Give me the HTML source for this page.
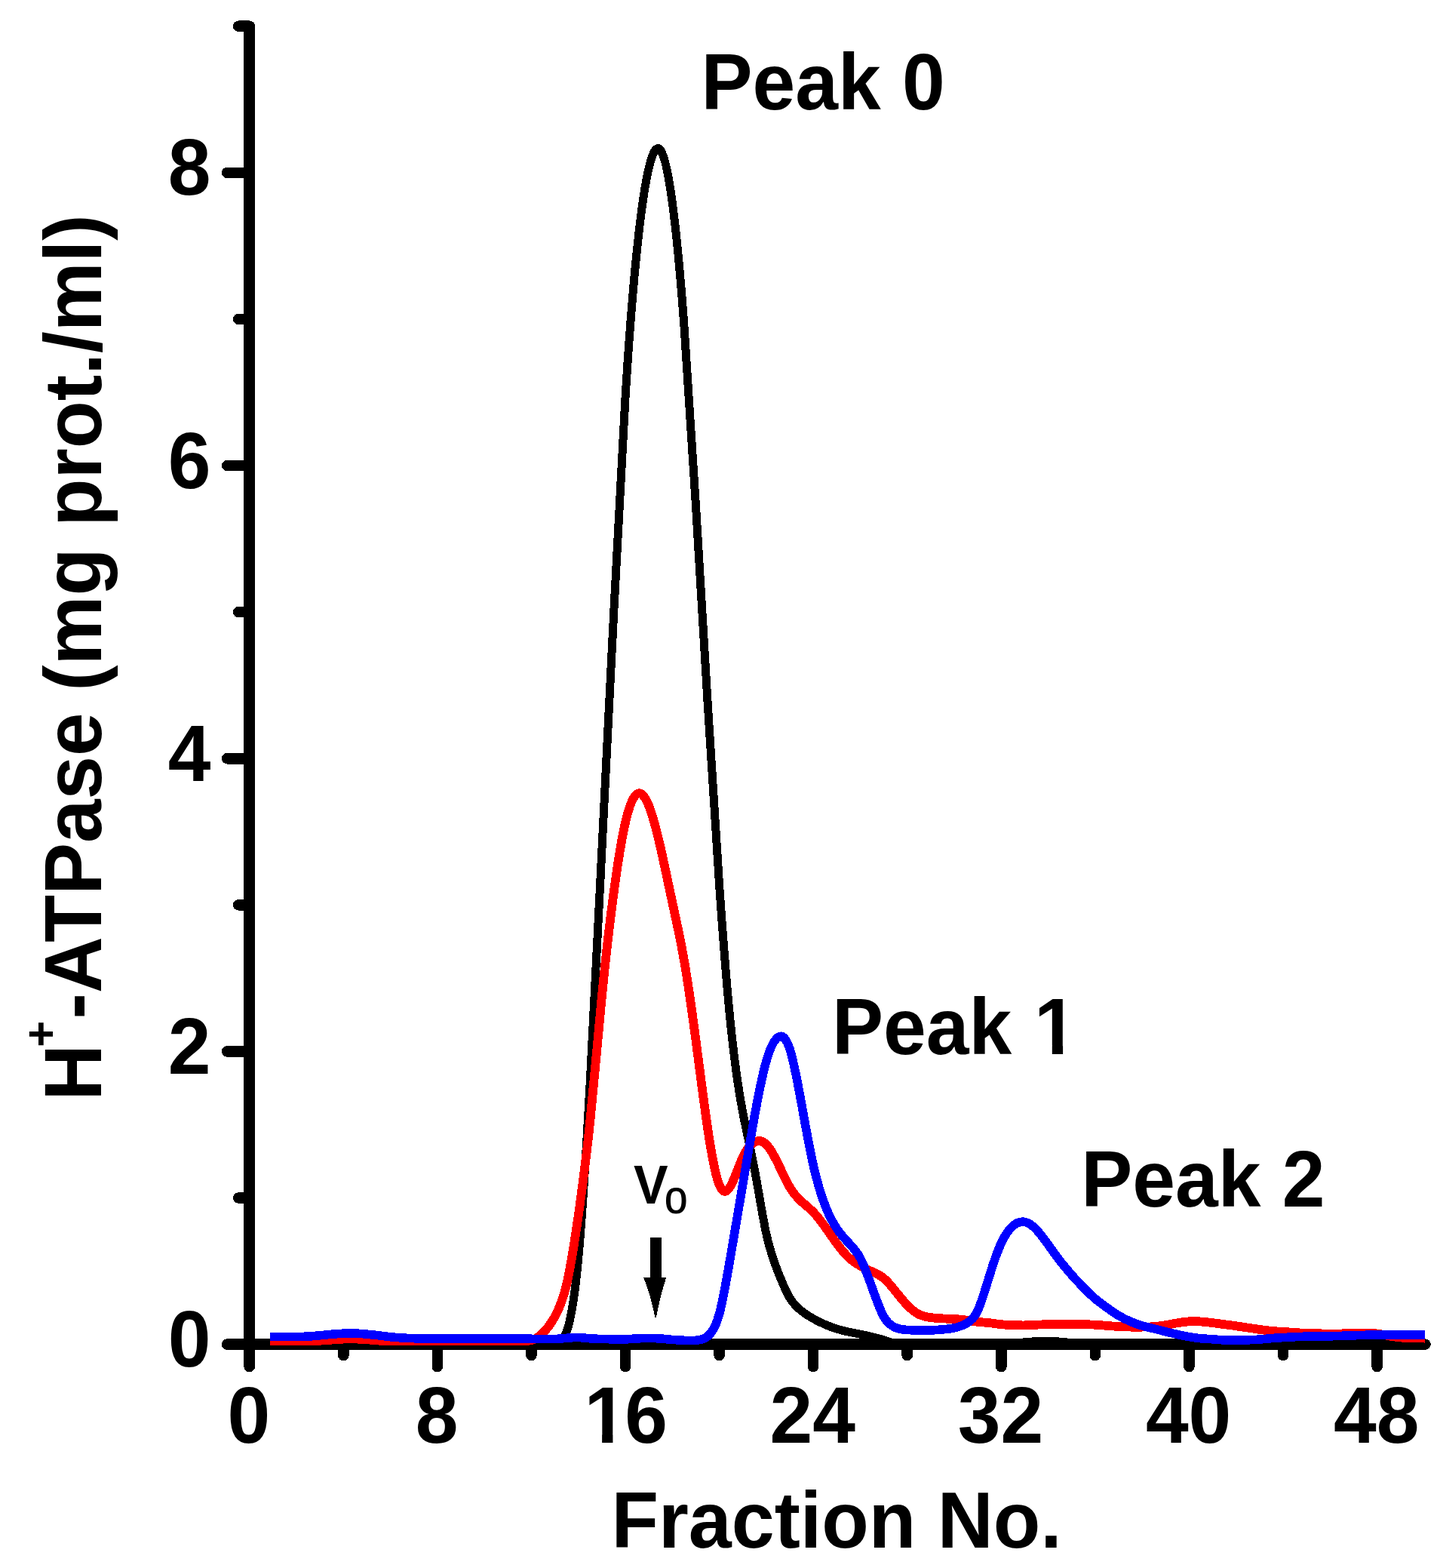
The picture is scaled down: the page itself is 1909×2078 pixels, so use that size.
<!DOCTYPE html>
<html lang="en"><head><meta charset="utf-8"><title>H+-ATPase elution profile</title>
<style>
html,body{margin:0;padding:0;background:#fff;}
body{width:1909px;height:2078px;overflow:hidden;}
svg{display:block;}
text{font-family:"Liberation Sans",sans-serif;fill:#000;}
.b{font-weight:bold;}
.ax{stroke:#000;stroke-width:14.6;fill:none;stroke-linecap:round;}
.cv{fill:none;stroke-linejoin:round;stroke-linecap:butt;}
</style></head><body>
<svg width="1909" height="2078" viewBox="0 0 1909 2078" shape-rendering="crispEdges">
<rect width="1909" height="2078" fill="#fff"/>
<defs>
<clipPath id="c16" clipPathUnits="userSpaceOnUse"><rect x="-200" y="-200" width="400" height="188.89"/><rect x="-30.07" y="-20" width="14.30" height="40"/><rect x="1.2" y="-200" width="200" height="300"/></clipPath>
<clipPath id="cp1" clipPathUnits="userSpaceOnUse"><rect x="-50" y="-200" width="500" height="188.89"/><rect x="291.71" y="-20" width="14.30" height="40"/><rect x="-50" y="-200" width="314.55" height="300"/></clipPath>
</defs>
<g class="ax">
<path d="M330.7 34.7 V1811.1"/>
<path d="M301.2 1781.6 H1889.4"/>
<path d="M301.2 1781.6 H330.7"/>
<path d="M316.2 1587.5 H330.7"/>
<path d="M301.2 1393.4 H330.7"/>
<path d="M316.2 1199.3 H330.7"/>
<path d="M301.2 1005.2 H330.7"/>
<path d="M316.2 811.1 H330.7"/>
<path d="M301.2 617.0 H330.7"/>
<path d="M316.2 422.9 H330.7"/>
<path d="M301.2 228.8 H330.7"/>
<path d="M316.2 34.7 H330.7"/>
<path d="M330.7 1781.6 V1811.1"/>
<path d="M455.3 1781.6 V1796.1"/>
<path d="M579.8 1781.6 V1811.1"/>
<path d="M704.4 1781.6 V1796.1"/>
<path d="M829.0 1781.6 V1811.1"/>
<path d="M953.6 1781.6 V1796.1"/>
<path d="M1078.1 1781.6 V1811.1"/>
<path d="M1202.7 1781.6 V1796.1"/>
<path d="M1327.3 1781.6 V1811.1"/>
<path d="M1451.8 1781.6 V1796.1"/>
<path d="M1576.4 1781.6 V1811.1"/>
<path d="M1701.0 1781.6 V1796.1"/>
<path d="M1825.6 1781.6 V1811.1"/>
</g>
<path class="cv" stroke="#000" stroke-width="11.0" d="M358.0 1780.5C359.3 1780.5 360.6 1780.5 361.8 1780.5C367.0 1780.5 372.2 1780.5 377.4 1780.5C382.6 1780.5 387.8 1780.5 393.0 1780.5C398.2 1780.5 403.4 1780.5 408.6 1780.5C413.7 1780.5 418.9 1780.5 424.1 1780.5C429.3 1780.5 434.5 1780.5 439.7 1780.5C444.9 1780.5 450.1 1780.5 455.3 1780.5C460.5 1780.5 465.7 1780.5 470.8 1780.5C476.0 1780.5 481.2 1780.5 486.4 1780.5C491.6 1780.5 496.8 1780.5 502.0 1780.5C507.2 1780.5 512.4 1780.5 517.6 1780.5C522.7 1780.5 527.9 1780.5 533.1 1780.5C538.3 1780.5 543.5 1780.5 548.7 1780.5C553.9 1780.5 559.1 1780.5 564.3 1780.5C569.5 1780.5 574.7 1780.5 579.8 1780.5C585.0 1780.5 590.2 1780.5 595.4 1780.5C600.6 1780.5 605.8 1780.5 611.0 1780.5C616.2 1780.5 621.4 1780.5 626.6 1780.5C631.7 1780.5 636.9 1780.5 642.1 1780.5C647.3 1780.5 652.5 1780.5 657.7 1780.5C662.9 1780.5 668.1 1780.5 673.3 1780.5C678.5 1780.5 683.7 1780.5 688.8 1780.5C694.0 1780.5 699.2 1780.5 704.4 1780.5C709.6 1780.5 714.8 1780.6 720.0 1780.6C725.2 1780.5 730.4 1780.4 735.6 1780.0C740.7 1779.7 745.9 1779.0 751.1 1764.9C756.3 1750.9 761.5 1723.3 766.7 1667.5C771.9 1611.7 777.1 1527.6 782.3 1432.7C787.5 1337.8 792.7 1232.2 797.8 1128.0C803.0 1023.8 808.2 921.2 813.4 818.0C818.6 714.8 823.8 611.1 829.0 527.2C834.2 443.4 839.4 379.4 844.6 329.8C849.8 280.1 854.9 244.9 860.1 222.8C865.3 200.8 870.5 191.8 875.7 199.1C880.9 206.4 886.1 229.9 891.3 268.5C896.5 307.1 901.7 360.7 906.8 429.6C912.0 498.5 917.2 582.8 922.4 669.0C927.6 755.3 932.8 843.5 938.0 929.4C943.2 1015.2 948.4 1098.7 953.6 1173.1C958.8 1247.4 963.9 1312.7 969.1 1362.5C974.3 1412.3 979.5 1446.7 984.7 1474.2C989.9 1501.7 995.1 1522.4 1000.3 1549.8C1005.5 1577.2 1010.7 1611.2 1015.8 1635.0C1021.0 1658.9 1026.2 1672.5 1031.4 1685.7C1036.6 1698.8 1041.8 1711.4 1047.0 1720.1C1052.2 1728.7 1057.4 1733.4 1062.6 1737.4C1067.8 1741.4 1072.9 1744.7 1078.1 1747.6C1083.3 1750.5 1088.5 1753.0 1093.7 1755.3C1098.9 1757.5 1104.1 1759.5 1109.3 1761.1C1114.5 1762.8 1119.7 1764.1 1124.8 1765.1C1130.0 1766.2 1135.2 1767.0 1140.4 1768.1C1145.6 1769.2 1150.8 1770.4 1156.0 1771.7C1161.2 1773.0 1166.4 1774.2 1171.6 1775.8C1176.8 1777.5 1181.9 1779.5 1187.1 1780.2C1192.3 1780.8 1197.5 1780.0 1202.7 1779.8C1207.9 1779.6 1213.1 1780.0 1218.3 1780.1C1223.5 1780.2 1228.7 1780.0 1233.8 1779.9C1239.0 1779.9 1244.2 1780.0 1249.4 1780.0C1254.6 1780.1 1259.8 1780.0 1265.0 1780.0C1270.2 1780.0 1275.4 1780.0 1280.6 1780.0C1285.8 1780.0 1290.9 1780.0 1296.1 1780.0C1301.3 1780.0 1306.5 1780.1 1311.7 1780.0C1316.9 1780.0 1322.1 1779.9 1327.3 1779.9C1332.5 1780.0 1337.7 1780.2 1342.8 1780.1C1348.0 1779.9 1353.2 1779.3 1358.4 1778.8C1363.6 1778.3 1368.8 1777.9 1374.0 1777.7C1379.2 1777.5 1384.4 1777.6 1389.6 1777.6C1394.8 1777.7 1399.9 1777.8 1405.1 1778.1C1410.3 1778.5 1415.5 1779.2 1420.7 1779.6C1425.9 1780.0 1431.1 1780.0 1436.3 1780.0C1441.5 1780.0 1446.7 1780.0 1451.8 1780.0C1457.0 1780.0 1462.2 1780.0 1467.4 1780.0C1472.6 1780.0 1477.8 1780.0 1483.0 1780.0C1488.2 1780.0 1493.4 1780.0 1498.6 1780.0C1503.8 1780.0 1508.9 1780.0 1514.1 1780.0C1519.3 1780.0 1524.5 1780.0 1529.7 1780.0C1534.9 1780.0 1540.1 1780.0 1545.3 1780.0C1550.5 1780.0 1555.7 1780.0 1560.8 1780.0C1566.0 1780.0 1571.2 1780.1 1576.4 1780.0C1581.6 1780.0 1586.8 1779.8 1592.0 1779.6C1597.2 1779.3 1602.4 1778.9 1607.6 1778.7C1612.8 1778.5 1617.9 1778.4 1623.1 1778.3C1628.3 1778.2 1633.5 1778.1 1638.7 1778.0C1643.9 1778.0 1649.1 1778.1 1654.3 1778.2C1659.5 1778.2 1664.7 1778.3 1669.8 1778.4C1675.0 1778.5 1680.2 1778.6 1685.4 1778.9C1690.6 1779.1 1695.8 1779.5 1701.0 1779.6C1706.2 1779.8 1711.4 1779.7 1716.6 1779.7C1721.8 1779.7 1726.9 1779.7 1732.1 1779.7C1737.3 1779.7 1742.5 1779.7 1747.7 1779.7C1752.9 1779.7 1758.1 1779.7 1763.3 1779.7C1768.5 1779.7 1773.7 1779.7 1778.8 1779.7C1784.0 1779.7 1789.2 1779.7 1794.4 1779.7C1799.6 1779.7 1804.8 1779.7 1810.0 1779.7C1815.2 1779.7 1820.4 1779.7 1825.6 1779.7C1830.8 1779.7 1835.9 1779.7 1841.1 1779.7C1846.3 1779.7 1851.5 1779.7 1856.7 1779.7C1861.9 1779.7 1867.1 1779.7 1872.3 1779.7C1877.5 1779.7 1882.7 1779.6 1887.9 1779.6C1888.2 1779.6 1888.6 1779.6 1889.0 1779.6"/>
<path class="cv" stroke="#f00" stroke-width="11.8" d="M358.0 1776.8C359.3 1776.8 360.6 1776.8 361.8 1776.8C367.0 1776.8 372.2 1776.8 377.4 1776.8C382.6 1776.8 387.8 1776.8 393.0 1776.8C398.2 1776.8 403.4 1776.8 408.6 1776.8C413.7 1776.8 418.9 1776.9 424.1 1776.7C429.3 1776.5 434.5 1776.0 439.7 1775.6C444.9 1775.2 450.1 1774.8 455.3 1774.6C460.5 1774.4 465.7 1774.3 470.8 1774.5C476.0 1774.6 481.2 1774.9 486.4 1775.3C491.6 1775.7 496.8 1776.3 502.0 1776.6C507.2 1776.8 512.4 1776.8 517.6 1776.8C522.7 1776.8 527.9 1776.8 533.1 1776.8C538.3 1776.8 543.5 1776.8 548.7 1776.8C553.9 1776.8 559.1 1776.8 564.3 1776.8C569.5 1776.8 574.7 1776.8 579.8 1776.8C585.0 1776.8 590.2 1776.8 595.4 1776.8C600.6 1776.8 605.8 1776.8 611.0 1776.8C616.2 1776.8 621.4 1776.8 626.6 1776.8C631.7 1776.8 636.9 1776.8 642.1 1776.8C647.3 1776.8 652.5 1776.7 657.7 1776.8C662.9 1776.8 668.1 1776.9 673.3 1776.9C678.5 1776.8 683.7 1776.5 688.8 1776.7C694.0 1776.9 699.2 1777.6 704.4 1776.2C709.6 1774.9 714.8 1771.5 720.0 1766.3C725.2 1761.1 730.4 1754.1 735.6 1744.9C740.7 1735.7 745.9 1724.4 751.1 1702.2C756.3 1680.1 761.5 1647.2 766.7 1611.1C771.9 1575.0 777.1 1535.7 782.3 1485.6C787.5 1435.4 792.7 1374.2 797.8 1321.3C803.0 1268.4 808.2 1223.7 813.4 1184.8C818.6 1145.9 823.8 1112.9 829.0 1090.3C834.2 1067.6 839.4 1055.4 844.6 1052.2C849.8 1049.1 854.9 1054.9 860.1 1067.8C865.3 1080.7 870.5 1100.7 875.7 1123.5C880.9 1146.2 886.1 1171.8 891.3 1195.9C896.5 1220.0 901.7 1242.6 906.8 1272.2C912.0 1301.9 917.2 1338.5 922.4 1377.9C927.6 1417.2 932.8 1459.3 938.0 1494.4C943.2 1529.6 948.4 1557.7 953.6 1570.4C958.8 1583.1 963.9 1580.2 969.1 1570.7C974.3 1561.1 979.5 1544.9 984.7 1533.7C989.9 1522.4 995.1 1516.3 1000.3 1513.6C1005.5 1510.9 1010.7 1511.6 1015.8 1516.7C1021.0 1521.8 1026.2 1531.3 1031.4 1542.0C1036.6 1552.7 1041.8 1564.6 1047.0 1573.4C1052.2 1582.1 1057.4 1587.7 1062.6 1592.4C1067.8 1597.1 1072.9 1601.0 1078.1 1606.3C1083.3 1611.7 1088.5 1618.6 1093.7 1625.9C1098.9 1633.2 1104.1 1640.9 1109.3 1648.0C1114.5 1655.0 1119.7 1661.4 1124.8 1666.3C1130.0 1671.2 1135.2 1674.7 1140.4 1677.6C1145.6 1680.6 1150.8 1682.9 1156.0 1685.2C1161.2 1687.5 1166.4 1689.7 1171.6 1694.0C1176.8 1698.3 1181.9 1704.7 1187.1 1711.2C1192.3 1717.7 1197.5 1724.3 1202.7 1729.7C1207.9 1735.1 1213.1 1739.3 1218.3 1741.9C1223.5 1744.4 1228.7 1745.4 1233.8 1746.1C1239.0 1746.8 1244.2 1747.2 1249.4 1747.4C1254.6 1747.7 1259.8 1747.7 1265.0 1748.0C1270.2 1748.3 1275.4 1748.8 1280.6 1749.5C1285.8 1750.3 1290.9 1751.2 1296.1 1751.8C1301.3 1752.4 1306.5 1752.6 1311.7 1753.2C1316.9 1753.8 1322.1 1754.7 1327.3 1755.2C1332.5 1755.8 1337.7 1756.0 1342.8 1756.2C1348.0 1756.3 1353.2 1756.5 1358.4 1756.4C1363.6 1756.3 1368.8 1755.9 1374.0 1755.7C1379.2 1755.4 1384.4 1755.3 1389.6 1755.2C1394.8 1755.1 1399.9 1755.0 1405.1 1755.0C1410.3 1754.9 1415.5 1754.9 1420.7 1755.0C1425.9 1755.0 1431.1 1755.1 1436.3 1755.2C1441.5 1755.3 1446.7 1755.4 1451.8 1755.7C1457.0 1756.0 1462.2 1756.5 1467.4 1756.9C1472.6 1757.4 1477.8 1757.7 1483.0 1758.0C1488.2 1758.3 1493.4 1758.6 1498.6 1758.6C1503.8 1758.7 1508.9 1758.6 1514.1 1758.6C1519.3 1758.5 1524.5 1758.6 1529.7 1758.2C1534.9 1757.8 1540.1 1757.0 1545.3 1756.1C1550.5 1755.2 1555.7 1754.1 1560.8 1753.3C1566.0 1752.4 1571.2 1751.7 1576.4 1751.3C1581.6 1751.0 1586.8 1751.1 1592.0 1751.5C1597.2 1751.8 1602.4 1752.4 1607.6 1753.1C1612.8 1753.8 1617.9 1754.5 1623.1 1755.2C1628.3 1755.9 1633.5 1756.5 1638.7 1757.3C1643.9 1758.0 1649.1 1758.9 1654.3 1759.6C1659.5 1760.4 1664.7 1761.2 1669.8 1761.9C1675.0 1762.6 1680.2 1763.3 1685.4 1763.8C1690.6 1764.3 1695.8 1764.6 1701.0 1764.9C1706.2 1765.2 1711.4 1765.6 1716.6 1766.0C1721.8 1766.4 1726.9 1766.7 1732.1 1766.9C1737.3 1767.1 1742.5 1767.2 1747.7 1767.3C1752.9 1767.4 1758.1 1767.6 1763.3 1767.6C1768.5 1767.7 1773.7 1767.6 1778.8 1767.4C1784.0 1767.3 1789.2 1767.1 1794.4 1766.9C1799.6 1766.8 1804.8 1766.6 1810.0 1766.7C1815.2 1766.7 1820.4 1766.8 1825.6 1767.5C1830.8 1768.2 1835.9 1769.4 1841.1 1770.4C1846.3 1771.4 1851.5 1772.0 1856.7 1772.5C1861.9 1773.0 1867.1 1773.3 1872.3 1773.4C1877.5 1773.6 1882.7 1773.6 1887.9 1773.6C1888.2 1773.6 1888.6 1773.6 1889.0 1773.6"/>
<path class="cv" stroke="#00f" stroke-width="11.6" d="M358.0 1771.4C359.3 1771.4 360.6 1771.4 361.8 1771.4C367.0 1771.4 372.2 1771.4 377.4 1771.4C382.6 1771.4 387.8 1771.5 393.0 1771.5C398.2 1771.5 403.4 1771.4 408.6 1771.1C413.7 1770.8 418.9 1770.3 424.1 1769.8C429.3 1769.3 434.5 1768.7 439.7 1768.3C444.9 1767.8 450.1 1767.4 455.3 1767.2C460.5 1766.9 465.7 1766.8 470.8 1767.0C476.0 1767.2 481.2 1767.7 486.4 1768.2C491.6 1768.7 496.8 1769.2 502.0 1769.8C507.2 1770.5 512.4 1771.2 517.6 1771.7C522.7 1772.3 527.9 1772.6 533.1 1773.0C538.3 1773.3 543.5 1773.6 548.7 1773.7C553.9 1773.9 559.1 1773.8 564.3 1773.8C569.5 1773.8 574.7 1773.8 579.8 1773.8C585.0 1773.8 590.2 1773.8 595.4 1773.8C600.6 1773.8 605.8 1773.8 611.0 1773.8C616.2 1773.8 621.4 1773.8 626.6 1773.8C631.7 1773.8 636.9 1773.8 642.1 1773.8C647.3 1773.8 652.5 1773.8 657.7 1773.8C662.9 1773.8 668.1 1773.8 673.3 1773.8C678.5 1773.8 683.7 1773.8 688.8 1773.9C694.0 1774.0 699.2 1774.2 704.4 1774.3C709.6 1774.5 714.8 1774.5 720.0 1774.6C725.2 1774.6 730.4 1774.7 735.6 1774.5C740.7 1774.3 745.9 1773.8 751.1 1773.3C756.3 1772.9 761.5 1772.4 766.7 1772.5C771.9 1772.7 777.1 1773.4 782.3 1773.8C787.5 1774.2 792.7 1774.3 797.8 1774.5C803.0 1774.6 808.2 1774.7 813.4 1774.9C818.6 1775.0 823.8 1775.1 829.0 1774.9C834.2 1774.7 839.4 1774.2 844.6 1773.9C849.8 1773.6 854.9 1773.4 860.1 1773.5C865.3 1773.5 870.5 1773.6 875.7 1774.0C880.9 1774.4 886.1 1775.0 891.3 1775.4C896.5 1775.8 901.7 1776.0 906.8 1776.3C912.0 1776.5 917.2 1776.7 922.4 1776.3C927.6 1775.9 932.8 1775.0 938.0 1771.0C943.2 1767.0 948.4 1760.1 953.6 1741.3C958.8 1722.5 963.9 1691.9 969.1 1661.4C974.3 1630.9 979.5 1600.5 984.7 1569.7C989.9 1538.9 995.1 1507.6 1000.3 1479.0C1005.5 1450.5 1010.7 1424.7 1015.8 1406.7C1021.0 1388.6 1026.2 1378.2 1031.4 1374.7C1036.6 1371.1 1041.8 1374.4 1047.0 1390.2C1052.2 1406.0 1057.4 1434.3 1062.6 1463.0C1067.8 1491.7 1072.9 1520.8 1078.1 1543.8C1083.3 1566.8 1088.5 1583.8 1093.7 1597.2C1098.9 1610.6 1104.1 1620.5 1109.3 1628.2C1114.5 1635.9 1119.7 1641.5 1124.8 1646.9C1130.0 1652.3 1135.2 1657.5 1140.4 1667.3C1145.6 1677.1 1150.8 1691.5 1156.0 1706.1C1161.2 1720.8 1166.4 1735.7 1171.6 1744.8C1176.8 1754.0 1181.9 1757.3 1187.1 1759.4C1192.3 1761.5 1197.5 1762.2 1202.7 1762.5C1207.9 1762.9 1213.1 1762.9 1218.3 1762.9C1223.5 1763.0 1228.7 1763.1 1233.8 1763.0C1239.0 1762.8 1244.2 1762.4 1249.4 1761.9C1254.6 1761.5 1259.8 1761.0 1265.0 1759.9C1270.2 1758.8 1275.4 1757.0 1280.6 1754.3C1285.8 1751.6 1290.9 1748.1 1296.1 1737.1C1301.3 1726.1 1306.5 1707.7 1311.7 1690.9C1316.9 1674.0 1322.1 1658.7 1327.3 1647.5C1332.5 1636.3 1337.7 1629.2 1342.8 1624.7C1348.0 1620.2 1353.2 1618.4 1358.4 1619.4C1363.6 1620.4 1368.8 1624.2 1374.0 1629.7C1379.2 1635.2 1384.4 1642.4 1389.6 1649.6C1394.8 1656.8 1399.9 1664.0 1405.1 1670.8C1410.3 1677.5 1415.5 1683.8 1420.7 1689.6C1425.9 1695.5 1431.1 1701.0 1436.3 1706.3C1441.5 1711.6 1446.7 1716.7 1451.8 1721.1C1457.0 1725.5 1462.2 1729.3 1467.4 1733.0C1472.6 1736.7 1477.8 1740.3 1483.0 1743.5C1488.2 1746.6 1493.4 1749.2 1498.6 1751.4C1503.8 1753.6 1508.9 1755.5 1514.1 1756.9C1519.3 1758.4 1524.5 1759.6 1529.7 1760.8C1534.9 1762.1 1540.1 1763.4 1545.3 1764.8C1550.5 1766.1 1555.7 1767.3 1560.8 1768.5C1566.0 1769.7 1571.2 1770.7 1576.4 1771.6C1581.6 1772.5 1586.8 1773.3 1592.0 1773.8C1597.2 1774.2 1602.4 1774.4 1607.6 1774.8C1612.8 1775.2 1617.9 1775.7 1623.1 1775.9C1628.3 1776.1 1633.5 1776.0 1638.7 1776.0C1643.9 1775.9 1649.1 1775.9 1654.3 1775.8C1659.5 1775.7 1664.7 1775.5 1669.8 1775.1C1675.0 1774.7 1680.2 1774.1 1685.4 1773.6C1690.6 1773.2 1695.8 1772.9 1701.0 1772.6C1706.2 1772.3 1711.4 1772.0 1716.6 1771.7C1721.8 1771.5 1726.9 1771.3 1732.1 1771.1C1737.3 1771.0 1742.5 1770.9 1747.7 1770.9C1752.9 1770.8 1758.1 1770.9 1763.3 1770.8C1768.5 1770.7 1773.7 1770.5 1778.8 1770.3C1784.0 1770.2 1789.2 1770.0 1794.4 1769.8C1799.6 1769.6 1804.8 1769.5 1810.0 1769.3C1815.2 1769.1 1820.4 1769.0 1825.6 1768.9C1830.8 1768.8 1835.9 1768.7 1841.1 1768.7C1846.3 1768.7 1851.5 1768.7 1856.7 1768.7C1861.9 1768.7 1867.1 1768.7 1872.3 1768.7C1877.5 1768.7 1882.7 1768.7 1887.9 1768.7C1888.2 1768.7 1888.6 1768.7 1889.0 1768.7"/>
<text class="b" transform="translate(279.6 1811.1) scale(1 1.04)" font-size="102" text-anchor="end">0</text>
<text class="b" transform="translate(279.6 1422.9) scale(1 1.04)" font-size="102" text-anchor="end">2</text>
<text class="b" transform="translate(279.6 1034.7) scale(1 1.04)" font-size="102" text-anchor="end">4</text>
<text class="b" transform="translate(279.6 646.5) scale(1 1.04)" font-size="102" text-anchor="end">6</text>
<text class="b" transform="translate(279.6 258.3) scale(1 1.04)" font-size="102" text-anchor="end">8</text>
<text class="b" transform="translate(329.9 1912.1) scale(1 1.04)" font-size="102" text-anchor="middle">0</text>
<text class="b" transform="translate(579.0 1912.1) scale(1 1.04)" font-size="102" text-anchor="middle">8</text>
<text class="b" transform="translate(828.2 1912.1) scale(1 1.04)" font-size="102" text-anchor="start" clip-path="url(#c16)"><tspan x="-53.73">1</tspan><tspan x="0">6</tspan></text>
<text class="b" transform="translate(1077.3 1912.1) scale(1 1.04)" font-size="102" text-anchor="middle">24</text>
<text class="b" transform="translate(1326.5 1912.1) scale(1 1.04)" font-size="102" text-anchor="middle">32</text>
<text class="b" transform="translate(1575.6 1912.1) scale(1 1.04)" font-size="102" text-anchor="middle">40</text>
<text class="b" transform="translate(1824.8 1912.1) scale(1 1.04)" font-size="102" text-anchor="middle">48</text>
<text class="b" transform="translate(810.4 2050.8) scale(1.004 1.04)" font-size="102">Fraction No.</text>
<text class="b" transform="translate(134.0 1458.8) rotate(-90) scale(0.994 1.032)" font-size="104">H<tspan font-size="60" x="71.4" y="-57">+</tspan><tspan x="108.95" y="0">-ATPase (mg prot./ml)</tspan></text>
<text class="b" transform="translate(929.6 145.4) scale(1 1.04)" font-size="102">Peak 0</text>
<text class="b" transform="translate(1103.1 1396.9) scale(1 1.04)" font-size="102" clip-path="url(#cp1)" xml:space="preserve">Peak <tspan dx="1.5">1</tspan></text>
<text class="b" transform="translate(1433.2 1598.6) scale(1 1.04)" font-size="102">Peak 2</text>
<g>
<text class="b" transform="translate(840.1 1595.4) scale(1 1.056)" font-size="68.4">V</text>
<text transform="translate(881.4 1608.0) scale(1.13 1.01)" font-size="47" stroke="#000" stroke-width="1.1" stroke-linejoin="round">0</text>
</g>
<path fill="#000" d="M861.8 1640 H877 V1693 H883.3 Q875.5 1716 870 1746 H868.4 Q862.5 1716 853.1 1693 H861.8 Z"/>
</svg>
</body></html>
